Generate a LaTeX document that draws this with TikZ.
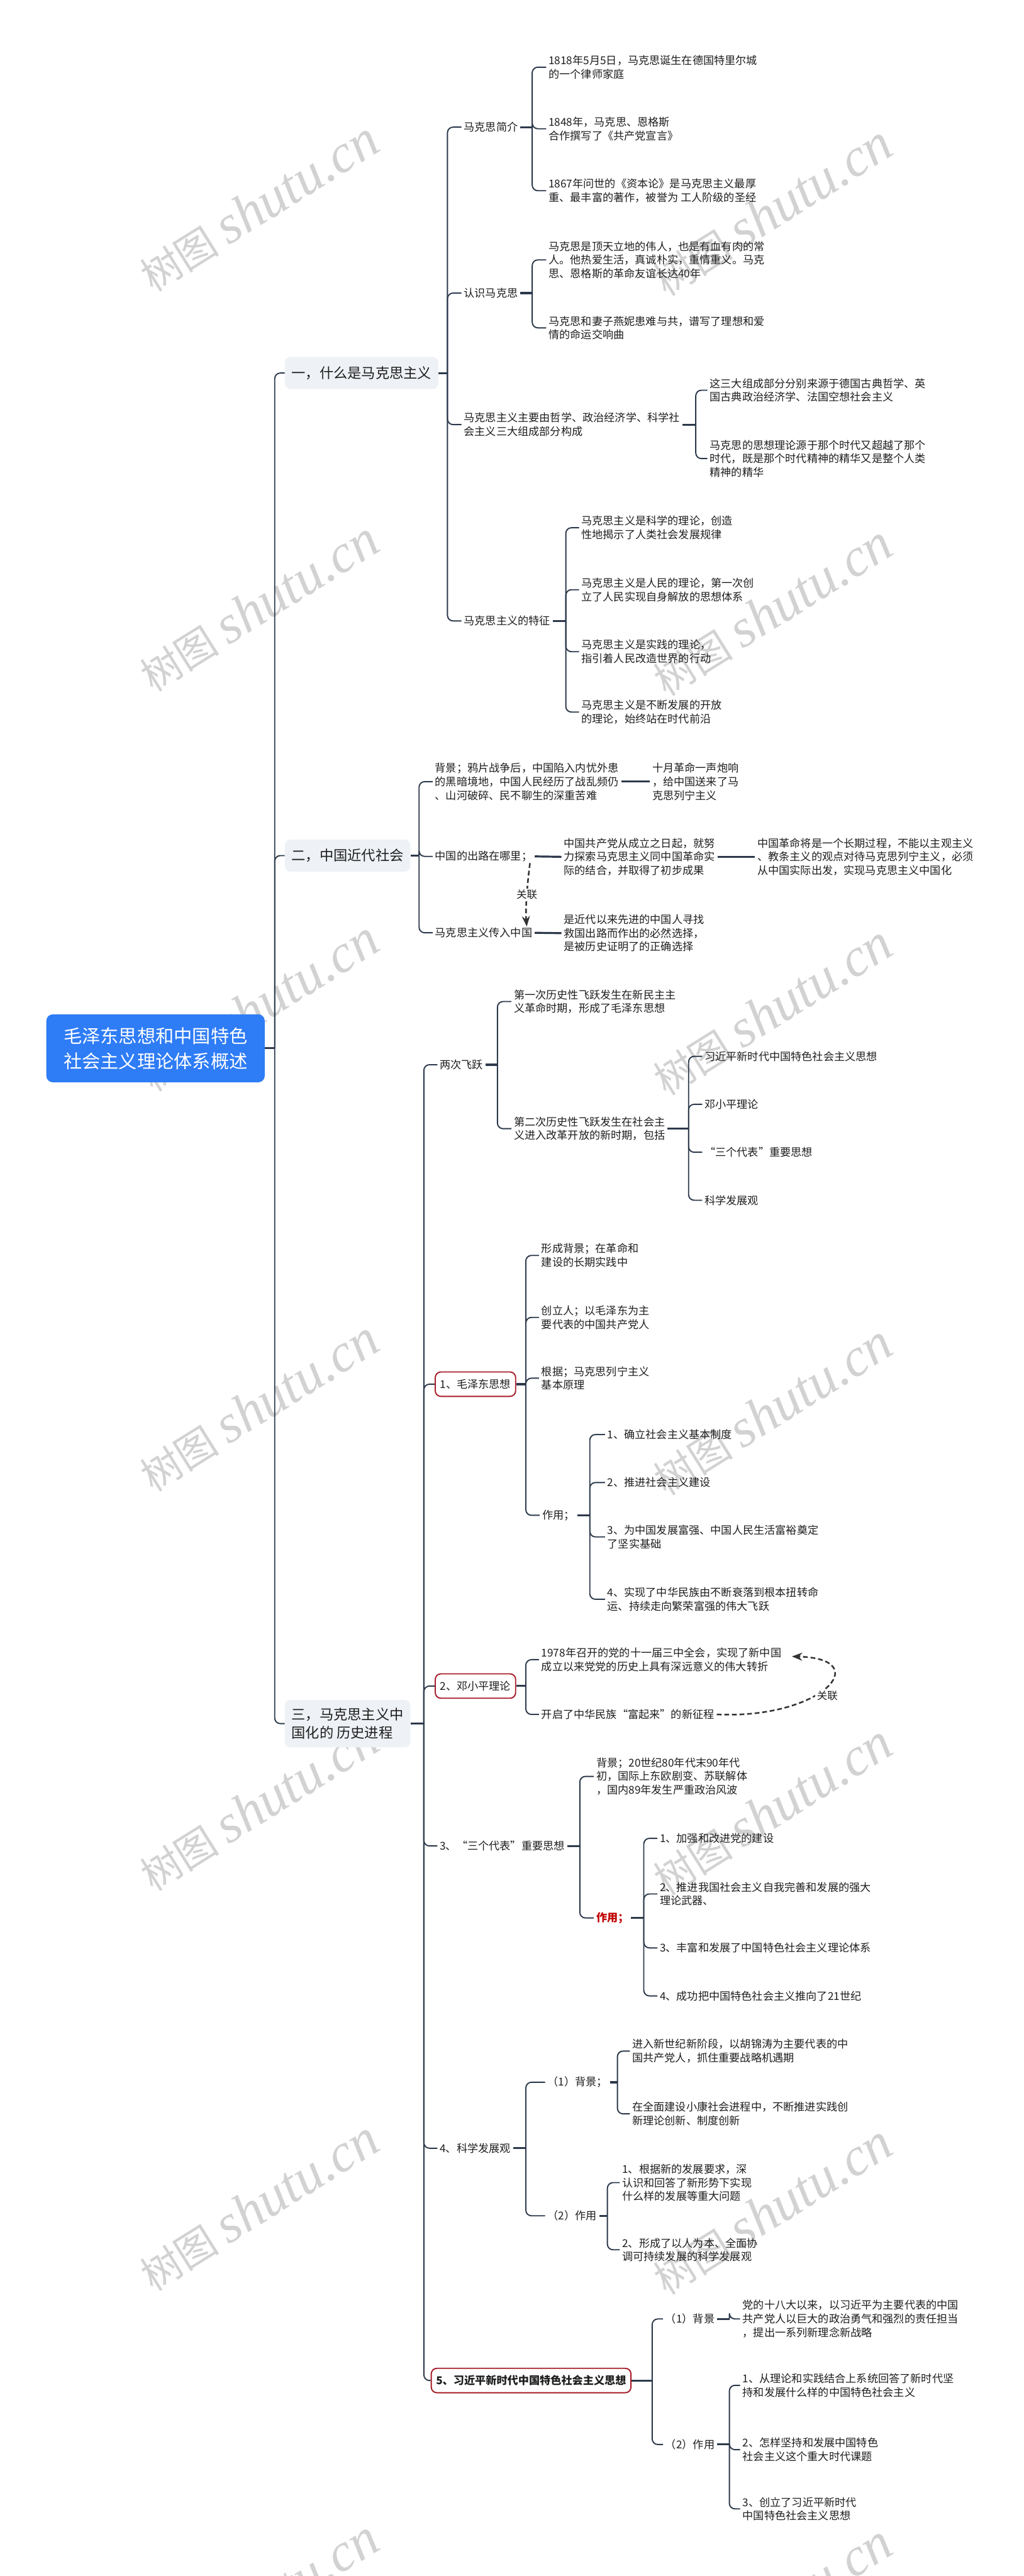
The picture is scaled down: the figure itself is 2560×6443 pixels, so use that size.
\documentclass[tikz,border=0pt]{standalone}
\usepackage{fontspec}
\newfontfamily\cjk{Noto Sans CJK SC}
\newfontfamily\wmlat{Liberation Serif}
\usetikzlibrary{arrows.meta}
\definecolor{linec}{HTML}{2C394B}
\definecolor{txtc}{HTML}{1E1E1E}
\definecolor{lonefill}{HTML}{EEF1F5}
\definecolor{rootc}{HTML}{2E7CF6}
\definecolor{redc}{HTML}{A61C28}
\definecolor{redt}{HTML}{C00000}
\definecolor{relc}{HTML}{333333}
\definecolor{wmc}{HTML}{D2D2D2}
\tikzset{
  tx/.style={font=\cjk\fontsize{27}{34}\selectfont, text=txtc, align=left, anchor=west, inner xsep=6pt, inner ysep=3pt},
  lone/.style={font=\cjk\fontsize{35}{46}\selectfont, text=txtc, align=left, anchor=west, fill=lonefill, rounded corners=14pt, inner xsep=17pt, inner ysep=20pt, minimum height=80pt},
  rootbox/.style={font=\cjk\fontsize{46}{63}\selectfont, text=white, align=center, fill=rootc, rounded corners=16pt, minimum width=546pt, minimum height=170pt},
  redbox/.style={tx, draw=redc, line width=3pt, rounded corners=14pt, fill=white, inner xsep=12pt, minimum height=61pt},
  redword/.style={tx, font=\cjk\bfseries\fontsize{27}{34}\selectfont, text=redt},
  conn/.style={draw=linec, line width=3pt, rounded corners=14pt},
  stub/.style={draw=linec, line width=5pt},
  rel/.style={draw=relc, line width=4pt, dash pattern=on 12pt off 7pt, -{Stealth[length=26pt,width=20pt]}},
  rellab/.style={font=\cjk\fontsize{26}{32}\selectfont, text=txtc, fill=white, inner sep=4pt},
  wm/.style={text=wmc, rotate=32, inner sep=0pt}
}
\newcommand\mmbranch[3]{%
  \coordinate (#1j) at (#2,0 |- #1.east);
  \draw[stub] (#1.east) -- (#1j);
  \foreach \c in {#3} {\draw[conn] (#1j) |- (\c.west);}
}
\begin{document}
\begin{tikzpicture}[x=1pt,y=-1pt]
\fill[white] (0,0) rectangle (2560,6443);
\useasboundingbox (0,0) rectangle (2560,6443);

% watermarks
\foreach \k in {0,...,6}{
  \node[wm] (wl\k) at (647,517+\k*1000) {{\cjk\fontsize{100}{100}\selectfont 树图}\hspace{24pt}{\wmlat\itshape\fontsize{135}{135}\selectfont shutu.cn}};
  \node[wm] (wr\k) at (1932,527+\k*1000) {{\cjk\fontsize{100}{100}\selectfont 树图}\hspace{24pt}{\wmlat\itshape\fontsize{135}{135}\selectfont shutu.cn}};
}

% root
\node[rootbox] (root) at (389,2622) {毛泽东思想和中国特色\\社会主义理论体系概述};

% level 1
\node[lone] (s1) at (712,933) {一，什么是马克思主义};
\node[lone] (s2) at (712,2140) {二，中国近代社会};
\node[lone] (s3) at (712,4311) {三，马克思主义中\\国化的 历史进程};

% section 1
\node[tx] (a1) at (1154,318) {马克思简介};
\node[tx] (a2) at (1154,733) {认识马克思};
\node[tx] (a3) at (1154,1062) {马克思主义主要由哲学、政治经济学、科学社\\会主义三大组成部分构成};
\node[tx] (a4) at (1154,1553) {马克思主义的特征};

\node[tx] (a11) at (1366,168) {1818年5月5日，马克思诞生在德国特里尔城\\的一个律师家庭};
\node[tx] (a12) at (1366,322) {1848年，马克思、恩格斯\\合作撰写了《共产党宣言》};
\node[tx] (a13) at (1366,477) {1867年问世的《资本论》是马克思主义最厚\\重、最丰富的著作，被誉为 工人阶级的圣经};

\node[tx] (a21) at (1366,650) {马克思是顶天立地的伟人，也是有血有肉的常\\人。他热爱生活，真诚朴实，重情重义。马克\\思、恩格斯的革命友谊长达40年};
\node[tx] (a22) at (1366,820) {马克思和妻子燕妮患难与共，谱写了理想和爱\\情的命运交响曲};

\node[tx] (a31) at (1769,976) {这三大组成部分分别来源于德国古典哲学、英\\国古典政治经济学、法国空想社会主义};
\node[tx] (a32) at (1769,1147) {马克思的思想理论源于那个时代又超越了那个\\时代，既是那个时代精神的精华又是整个人类\\精神的精华};

\node[tx] (a41) at (1448,1320) {马克思主义是科学的理论，创造\\性地揭示了人类社会发展规律};
\node[tx] (a42) at (1448,1475) {马克思主义是人民的理论，第一次创\\立了人民实现自身解放的思想体系};
\node[tx] (a43) at (1448,1630) {马克思主义是实践的理论，\\指引着人民改造世界的行动};
\node[tx] (a44) at (1448,1781) {马克思主义是不断发展的开放\\的理论，始终站在时代前沿};

% section 2
\node[tx] (b1) at (1082,1955) {背景；鸦片战争后，中国陷入内忧外患\\的黑暗境地，中国人民经历了战乱频仍\\、山河破碎、民不聊生的深重苦难};
\node[tx] (b11) at (1625,1955) {十月革命一声炮响\\，给中国送来了马\\克思列宁主义};
\node[tx] (b2) at (1082,2142) {中国的出路在哪里；};
\node[tx] (b21) at (1404,2143) {中国共产党从成立之日起，就努\\力探索马克思主义同中国革命实\\际的结合，并取得了初步成果};
\node[tx] (b211) at (1888,2143) {中国革命将是一个长期过程，不能以主观主义\\、教条主义的观点对待马克思列宁主义，必须\\从中国实际出发，实现马克思主义中国化};
\node[tx] (b3) at (1082,2333) {马克思主义传入中国};
\node[tx] (b31) at (1404,2334) {是近代以来先进的中国人寻找\\救国出路而作出的必然选择，\\是被历史证明了的正确选择};

% section 3
\node[tx] (c1) at (1094,2663) {两次飞跃};
\node[tx] (c11) at (1279,2505) {第一次历史性飞跃发生在新民主主\\义革命时期，形成了毛泽东思想};
\node[tx] (c12) at (1279,2823) {第二次历史性飞跃发生在社会主\\义进入改革开放的新时期，包括};
\node[tx] (c121) at (1756,2642) {习近平新时代中国特色社会主义思想};
\node[tx] (c122) at (1756,2762) {邓小平理论};
\node[tx] (c123) at (1756,2882) {“三个代表”重要思想};
\node[tx] (c124) at (1756,3002) {科学发展观};

\node[redbox] (c2) at (1087,3462) {1、毛泽东思想};
\node[tx] (c21) at (1348,3140) {形成背景；在革命和\\建设的长期实践中};
\node[tx] (c22) at (1348,3295) {创立人；以毛泽东为主\\要代表的中国共产党人};
\node[tx] (c23) at (1348,3447) {根据；马克思列宁主义\\基本原理};
\node[tx] (c24) at (1350,3790) {作用；};
\node[tx] (c241) at (1513,3588) {1、确立社会主义基本制度};
\node[tx] (c242) at (1513,3708) {2、推进社会主义建设};
\node[tx] (c243) at (1513,3844) {3、为中国发展富强、中国人民生活富裕奠定\\了坚实基础};
\node[tx] (c244) at (1513,4000) {4、实现了中华民族由不断衰落到根本扭转命\\运、持续走向繁荣富强的伟大飞跃};

\node[redbox] (c3) at (1087,4217) {2、邓小平理论};
\node[tx] (c31) at (1348,4151) {1978年召开的党的十一届三中全会，实现了新中国\\成立以来党党的历史上具有深远意义的伟大转折};
\node[tx] (c32) at (1348,4288) {开启了中华民族“富起来”的新征程};

\node[tx] (c4) at (1094,4617) {3、“三个代表”重要思想};
\node[tx] (c41) at (1485,4443) {背景；20世纪80年代末90年代\\初，国际上东欧剧变、苏联解体\\，国内89年发生严重政治风波};
\node[redword] (c42) at (1485,4797) {作用；};
\node[tx] (c421) at (1644,4598) {1、加强和改进党的建设};
\node[tx] (c422) at (1644,4737) {2、推进我国社会主义自我完善和发展的强大\\理论武器、};
\node[tx] (c423) at (1644,4872) {3、丰富和发展了中国特色社会主义理论体系};
\node[tx] (c424) at (1644,4992) {4、成功把中国特色社会主义推向了21世纪};

\node[tx] (c5) at (1094,5373) {4、科学发展观};
\node[tx] (c51) at (1363,5208) {（1）背景；};
\node[tx] (c511) at (1575,5130) {进入新世纪新阶段，以胡锦涛为主要代表的中\\国共产党人，抓住重要战略机遇期};
\node[tx] (c512) at (1575,5287) {在全面建设小康社会进程中，不断推进实践创\\新理论创新、制度创新};
\node[tx] (c52) at (1363,5542) {（2）作用};
\node[tx] (c521) at (1550,5459) {1、根据新的发展要求，深\\认识和回答了新形势下实现\\什么样的发展等重大问题};
\node[tx] (c522) at (1550,5627) {2、形成了以人为本、全面协\\调可持续发展的科学发展观};

\node[redbox, font=\cjk\bfseries\fontsize{27}{34}\selectfont] (c6) at (1077,5954) {5、习近平新时代中国特色社会主义思想};
\node[tx] (c61) at (1658,5800) {（1）背景};
\node[tx] (c611) at (1851,5800) {党的十八大以来，以习近平为主要代表的中国\\共产党人以巨大的政治勇气和强烈的责任担当\\，提出一系列新理念新战略};
\node[tx] (c62) at (1658,6114) {（2）作用};
\node[tx] (c621) at (1851,5966) {1、从理论和实践结合上系统回答了新时代坚\\持和发展什么样的中国特色社会主义};
\node[tx] (c622) at (1851,6127) {2、怎样坚持和发展中国特色\\社会主义这个重大时代课题};
\node[tx] (c623) at (1851,6275) {3、创立了习近平新时代\\中国特色社会主义思想};

% connectors
\mmbranch{root}{687}{s1,s2,s3}
\mmbranch{s1}{1119}{a1,a2,a3,a4}
\mmbranch{a1}{1331}{a11,a12,a13}
\mmbranch{a2}{1331}{a21,a22}
\mmbranch{a3}{1740}{a31,a32}
\mmbranch{a4}{1415}{a41,a42,a43,a44}
\mmbranch{s2}{1048}{b1,b2,b3}
\draw[stub] (b1.east) -- (b11.west);
\draw[stub] (b2.east) -- (b21.west);
\draw[stub] (b21.east) -- (b211.west);
\draw[stub] (b3.east) -- (b31.west);
\mmbranch{s3}{1060}{c1,c2,c3,c4,c5,c6}
\mmbranch{c1}{1244}{c11,c12}
\mmbranch{c12}{1722}{c121,c122,c123,c124}
\mmbranch{c2}{1315}{c21,c22,c23,c24}
\mmbranch{c24}{1475}{c241,c242,c243,c244}
\mmbranch{c3}{1315}{c31,c32}
\mmbranch{c4}{1450}{c41,c42}
\mmbranch{c42}{1610}{c421,c422,c423,c424}
\mmbranch{c5}{1315}{c51,c52}
\mmbranch{c51}{1544}{c511,c512}
\mmbranch{c52}{1519}{c521,c522}
\mmbranch{c6}{1631}{c61,c62}
\mmbranch{c61}{1824}{c611}
\mmbranch{c62}{1824}{c621,c622,c623}

% relation arrows
\draw[rel] ([xshift=-12pt]b2.south east) .. controls +(-6,45) and +(-4,-45) .. ([xshift=-20pt]b3.north east)
  node[rellab, pos=0.5] (rl1) {关联};
\coordinate (c31e) at ([xshift=20pt,yshift=8pt]c31.east);
\draw[rel] (c32.east) .. controls +(265,12) and +(210,5) .. (c31e);
\node[rellab] (rl2) at (2069,4242) {关联};
\end{tikzpicture}
\end{document}
